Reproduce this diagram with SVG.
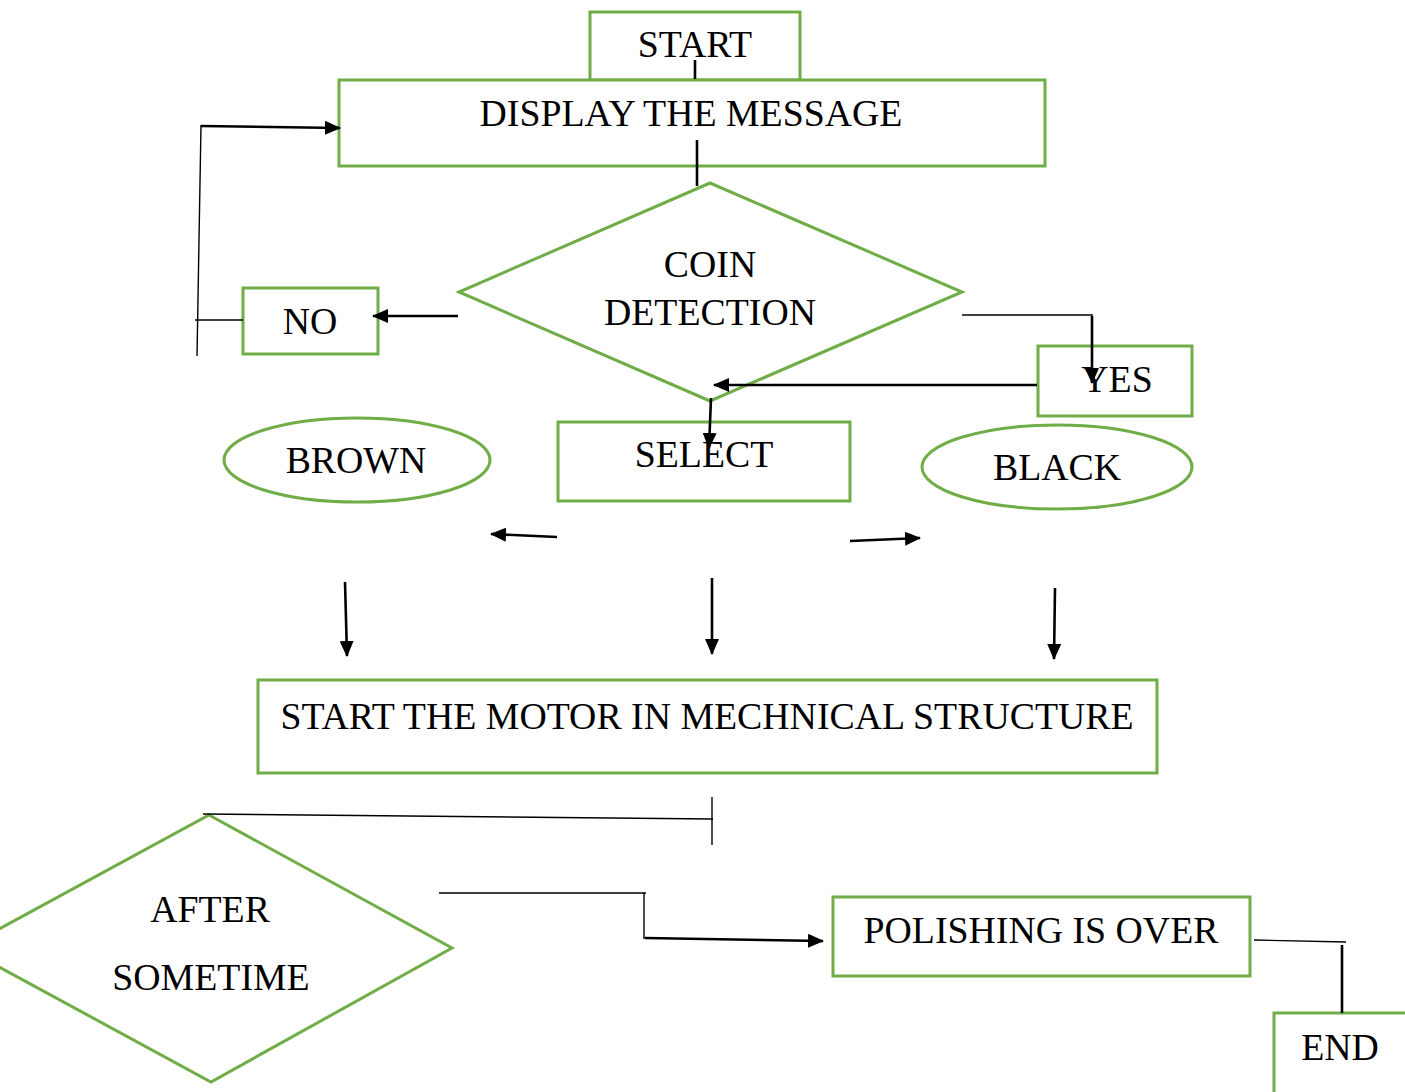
<svg xmlns="http://www.w3.org/2000/svg" width="1405" height="1092" viewBox="0 0 1405 1092">
<defs>
<style>
.n{fill:#ffffff;stroke:#70AD47;stroke-width:3}
.t{font-family:"Liberation Serif","Times New Roman",serif;font-size:37.8px;fill:#000;text-anchor:middle}
.thin{stroke:#000;stroke-width:1.4;fill:none}
.thick{stroke:#000;stroke-width:2.6;fill:none}
</style>
<marker id="ah" markerUnits="userSpaceOnUse" markerWidth="16" markerHeight="14" refX="15" refY="7" orient="auto">
<path d="M0,0 L16,7 L0,14 Z" fill="#000"/>
</marker>
</defs>
<rect width="1405" height="1092" fill="#fff"/>
<g id="start"><rect class="n" x="590" y="12" width="210" height="68"/><text class="t" x="695" y="57">START</text></g>
<g id="display"><rect class="n" x="339" y="80" width="706" height="86"/><text class="t" x="691" y="126">DISPLAY THE MESSAGE</text></g>
<g id="coin"><polygon class="n" points="710,183 962,292 710,401 459,292"/><text class="t" x="710" y="277">COIN</text><text class="t" x="710" y="325">DETECTION</text></g>
<g id="no"><rect class="n" x="243" y="288" width="135" height="66"/><text class="t" x="310" y="334">NO</text></g>
<g id="yes"><rect class="n" x="1038" y="346" width="154" height="70"/><text class="t" x="1117" y="392">YES</text></g>
<g id="select"><rect class="n" x="558" y="422" width="292" height="79"/><text class="t" x="704" y="467">SELECT</text></g>
<g id="brown"><ellipse class="n" cx="357" cy="460" rx="133" ry="42"/><text class="t" x="356" y="473">BROWN</text></g>
<g id="black"><ellipse class="n" cx="1057" cy="467" rx="135" ry="42"/><text class="t" x="1057" y="480">BLACK</text></g>
<g id="motor"><rect class="n" x="258" y="680" width="899" height="93"/><text class="t" x="707" y="729">START THE MOTOR IN MECHNICAL STRUCTURE</text></g>
<g id="after"><polygon class="n" points="209,815 452,948 211,1082 -36,948"/><text class="t" x="210" y="922">AFTER</text><text class="t" x="211" y="990">SOMETIME</text></g>
<g id="polishing"><rect class="n" x="833" y="897" width="417" height="79"/><text class="t" x="1041" y="943">POLISHING IS OVER</text></g>
<g id="end"><rect class="n" x="1274" y="1013" width="140" height="90"/><text class="t" x="1340" y="1060">END</text></g>
<g id="connectors">
<line class="thick" x1="695" y1="60" x2="695" y2="79"/>
<line class="thick" x1="697" y1="140" x2="697" y2="186"/>
<line class="thick" x1="458" y1="316" x2="373" y2="316" marker-end="url(#ah)"/>
<line class="thin" x1="243" y1="320" x2="195" y2="320"/>
<line class="thin" x1="197" y1="356" x2="201" y2="125"/>
<line class="thick" x1="201" y1="126" x2="340" y2="128" marker-end="url(#ah)"/>
<line class="thin" x1="962" y1="315" x2="1093" y2="315"/>
<line class="thick" x1="1092" y1="316" x2="1092" y2="383" marker-end="url(#ah)"/>
<line class="thick" x1="1037" y1="385" x2="714" y2="385" marker-end="url(#ah)"/>
<line class="thick" x1="711" y1="398" x2="709" y2="448" marker-end="url(#ah)"/>
<line class="thick" x1="557" y1="537" x2="491" y2="534" marker-end="url(#ah)"/>
<line class="thick" x1="850" y1="541" x2="920" y2="538" marker-end="url(#ah)"/>
<line class="thick" x1="345" y1="582" x2="347" y2="656" marker-end="url(#ah)"/>
<line class="thick" x1="712" y1="578" x2="712" y2="654" marker-end="url(#ah)"/>
<line class="thick" x1="1055" y1="588" x2="1054" y2="659" marker-end="url(#ah)"/>
<line class="thin" x1="712" y1="797" x2="712" y2="845"/>
<line class="thin" x1="203" y1="814" x2="713" y2="819"/>
<line class="thin" x1="439" y1="893" x2="646" y2="893"/>
<line class="thin" x1="644" y1="893" x2="644" y2="939"/>
<line class="thick" x1="645" y1="938" x2="823" y2="941" marker-end="url(#ah)"/>
<line class="thin" x1="1254" y1="940" x2="1346" y2="942"/>
<line class="thick" x1="1342" y1="945" x2="1342" y2="1013"/>
</g>
</svg>
